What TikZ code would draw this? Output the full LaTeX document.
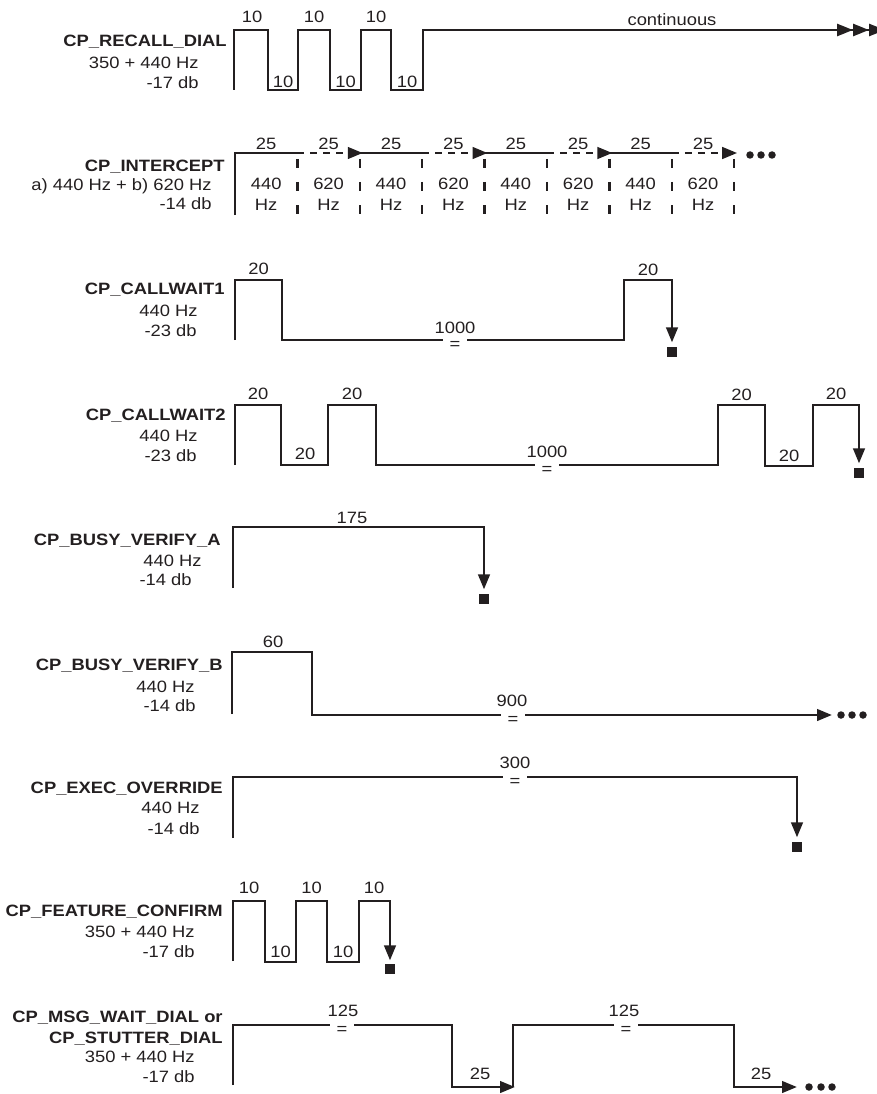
\documentclass[tikz,border=0pt]{standalone}
\usepackage{fontspec}
\setmainfont[FakeStretch=1.12]{Liberation Sans}
\usetikzlibrary{arrows.meta}
\definecolor{ink}{RGB}{35,31,32}

\begin{document}
\begin{tikzpicture}[x=1pt, y=-1pt, >={Triangle[length=15pt,width=11.5pt]},
    line width=2.7pt, color=ink, font=\fontsize{16.4}{19}\selectfont,
    txt/.style={inner sep=0pt, text height=11.7pt, text depth=0pt},
    sig/.style={txt, anchor=east, font=\fontsize{16.4}{19}\selectfont\bfseries},
    info/.style={txt, anchor=east},
    lbl/.style={txt},
    brk/.style={fill=white, anchor=base, inner xsep=7pt, inner ysep=0pt,
      text height=11pt, text depth=0pt},
    dwave/.style={dash pattern=on 7pt off 6pt},
    vdash/.style={line width=2.5pt, dash pattern=on 9pt off 14pt},
    stopsq/.style={fill=ink, inner sep=0pt, minimum size=10.5pt},
    tdot/.style={fill=ink, circle, inner sep=0pt, minimum size=7.5pt}]

    \useasboundingbox (0,0) rectangle (876,1094);

    % 1. recall dial: three short bursts, then a steady tone
    \node[sig] (rdname) at (228,41) {CP\_RECALL\_DIAL};
    \node[info] (rdfreq) at (200,62.5) {350 + 440 Hz};
    \node[info] (rdlvl) at (200,82.5) {-17 db};
    \draw[-{Triangle[length=16pt,width=12pt]Triangle[length=16pt,width=12pt]Triangle[length=16pt,width=12pt]}]
      (234,90) -- (234,30) -- (268,30) -- (268,90) -- (298,90) -- (298,30) -- (330,30) -- (330,90)
      -- (361,90) -- (361,30) -- (391,30) -- (391,90) -- (423,90) -- (423,30) -- (885,30);
    \foreach \x/\n in {252/1, 314/2, 376/3}
      \node[lbl] (rdon\n) at (\x,17) {10};
    \foreach \x/\n in {283/1, 345.5/2, 407/3}
      \node[lbl] (rdoff\n) at (\x,82) {10};
    \node[lbl] (rdcont) at (672,19.6) {continuous};

    % 2. intercept: 440 and 620 Hz take turns
    \node[sig] (icname) at (226,165.5) {CP\_INTERCEPT};
    \node[info] (icfreq) at (213,185) {a) 440 Hz + b) 620 Hz};
    \node[info] (iclvl) at (213,204) {-14 db};
    \draw (235,215) -- (235,153) -- (297.4,153);
    \foreach \s in {359.8, 484.6, 609.4}
      \draw (\s,153) -- (\s+62.4,153);
    \foreach \s in {235, 359.8, 484.6, 609.4}
      \draw[dwave,->] (\s+62.4,153) -- (\s+127.8,153);
    \foreach \i in {1,...,8}
      \draw[vdash] (235+62.4*\i,159) -- (235+62.4*\i,216);
    \foreach \i/\f in {0/440, 1/620, 2/440, 3/620, 4/440, 5/620, 6/440, 7/620} {
      \node[lbl] (icdur\i) at (266.2+62.4*\i,144) {25};
      \node[lbl] (icf\i) at (266.2+62.4*\i,183.5) {\f};
      \node[lbl] (ichz\i) at (266.2+62.4*\i,205) {Hz};
    }
    \foreach \x/\n in {750/1, 761/2, 772/3}
      \node[tdot] (icdot\n) at (\x,155) {};

    % 3. call waiting, one beep
    \node[sig] (cw1name) at (226,289) {CP\_CALLWAIT1};
    \node[info] (cw1freq) at (199,310.5) {440 Hz};
    \node[info] (cw1lvl) at (198,330.5) {-23 db};
    \node[stopsq] (cw1end) at (672,352) {};
    \draw[->, shorten >=3pt] (235,340) -- (235,280) -- (282,280) -- (282,340) -- (624,340)
      -- (624,280) -- (672,280) -- (cw1end.north);
    \node[brk] (cw1brk) at (455,349) {=};
    \node[lbl] (cw1long) at (455,328) {1000};
    \node[lbl] (cw1on1) at (258.5,269) {20};
    \node[lbl] (cw1on2) at (648,270) {20};

    % 4. call waiting, two beeps
    \node[sig] (cw2name) at (227,415) {CP\_CALLWAIT2};
    \node[info] (cw2freq) at (199,435.5) {440 Hz};
    \node[info] (cw2lvl) at (198,456) {-23 db};
    \node[stopsq] (cw2end) at (859,473) {};
    \draw[->, shorten >=3pt] (235,465) -- (235,405) -- (281,405) -- (281,465) -- (328,465)
      -- (328,405) -- (376,405) -- (376,465) -- (718,465) -- (718,405) -- (765,405)
      -- (765,466) -- (813,466) -- (813,405) -- (859,405) -- (cw2end.north);
    \node[brk] (cw2brk) at (547,474) {=};
    \node[lbl] (cw2long) at (547,452) {1000};
    \foreach \x/\y/\n in {258/394/1, 352/394/2, 305/454/3, 741.5/395/4, 789/456/5, 836/394/6}
      \node[lbl] (cw2t\n) at (\x,\y) {20};

    % 5. busy verify A
    \node[sig] (bvaname) at (222,540) {CP\_BUSY\_VERIFY\_A};
    \node[info] (bvafreq) at (203,561) {440 Hz};
    \node[info] (bvalvl) at (193,580) {-14 db};
    \node[stopsq] (bvaend) at (484,599) {};
    \draw[->, shorten >=3pt] (233,588) -- (233,527) -- (484,527) -- (bvaend.north);
    \node[lbl] (bvaon) at (352,518) {175};

    % 6. busy verify B
    \node[sig] (bvbname) at (224,665) {CP\_BUSY\_VERIFY\_B};
    \node[info] (bvbfreq) at (196,686.5) {440 Hz};
    \node[info] (bvblvl) at (197,706) {-14 db};
    \draw[->] (232,714) -- (232,652) -- (312,652) -- (312,715) -- (832,715);
    \node[brk] (bvbbrk) at (513,724) {=};
    \node[lbl] (bvbon) at (273,642) {60};
    \node[lbl] (bvboff) at (512,701) {900};
    \foreach \x/\n in {841/1, 852/2, 863/3}
      \node[tdot] (bvbdot\n) at (\x,715) {};

    % 7. executive override
    \node[sig] (eoname) at (224,788) {CP\_EXEC\_OVERRIDE};
    \node[info] (eofreq) at (201,808) {440 Hz};
    \node[info] (eolvl) at (201,828.5) {-14 db};
    \node[stopsq] (eoend) at (797,847) {};
    \draw[->, shorten >=3pt] (233,838) -- (233,777) -- (797,777) -- (eoend.north);
    \node[brk] (eobrk) at (515,786) {=};
    \node[lbl] (eoon) at (515,763) {300};

    % 8. feature confirm
    \node[sig] (fcname) at (224,910.5) {CP\_FEATURE\_CONFIRM};
    \node[info] (fcfreq) at (196,931.5) {350 + 440 Hz};
    \node[info] (fclvl) at (196,951.5) {-17 db};
    \node[stopsq] (fcend) at (390,969) {};
    \draw[->, shorten >=2pt] (233,961) -- (233,901) -- (265,901) -- (265,962) -- (296,962)
      -- (296,901) -- (327,901) -- (327,962) -- (359,962) -- (359,901) -- (390,901) -- (fcend.north);
    \foreach \x/\y/\n in {249/888/1, 311.5/888/2, 374/888/3, 280.5/952/4, 343/952/5}
      \node[lbl] (fct\n) at (\x,\y) {10};

    % 9. message waiting / stutter dial
    \node[sig] (swname) at (224,1017) {CP\_MSG\_WAIT\_DIAL or};
    \node[sig] (swname2) at (224,1037.5) {CP\_STUTTER\_DIAL};
    \node[info] (swfreq) at (196,1057) {350 + 440 Hz};
    \node[info] (swlvl) at (196,1077) {-17 db};
    \draw[->] (233,1085) -- (233,1025) -- (452,1025) -- (452,1087) -- (515,1087);
    \draw[->] (513,1087) -- (513,1025) -- (734,1025) -- (734,1087) -- (797,1087);
    \node[brk] (swbrk1) at (342,1034) {=};
    \node[brk] (swbrk2) at (626,1034) {=};
    \node[lbl] (swon1) at (343,1011) {125};
    \node[lbl] (swon2) at (624,1011) {125};
    \node[lbl] (swoff1) at (480,1074) {25};
    \node[lbl] (swoff2) at (761,1074) {25};
    \foreach \x/\n in {809/1, 821/2, 832/3}
      \node[tdot] (swdot\n) at (\x,1087) {};

\end{tikzpicture}
\end{document}
